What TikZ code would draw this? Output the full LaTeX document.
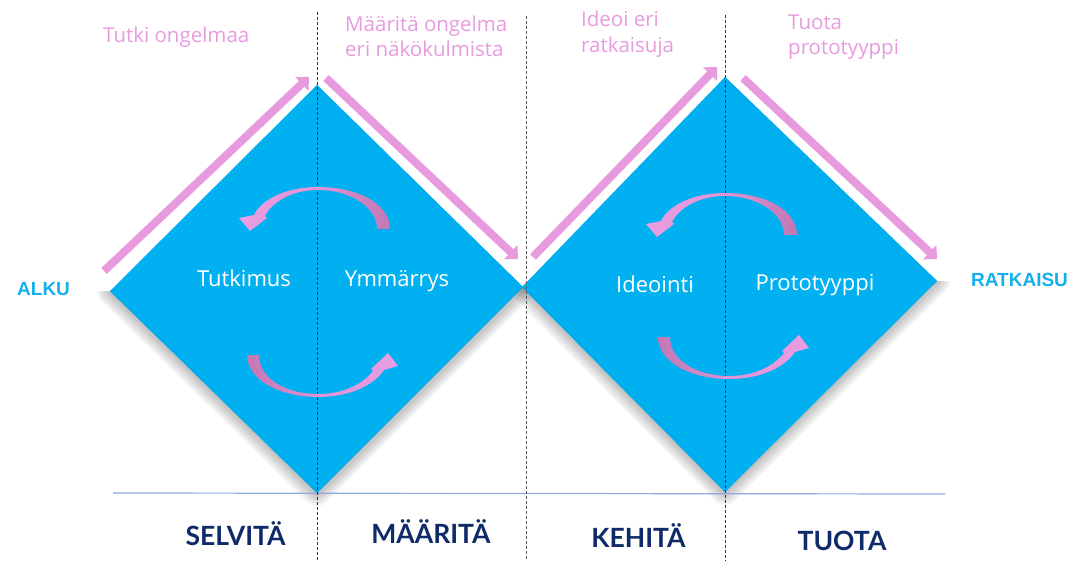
\documentclass[tikz,border=0pt]{standalone}
\usepackage{fontspec}
\setmainfont{Open Sans}
\newfontfamily\labfont{Lato}
\newfontfamily\endfont{Liberation Sans}
\usetikzlibrary{arrows.meta}
\definecolor{dblue}{HTML}{00B0F0}
\definecolor{pinkA}{HTML}{E89ADF}
\definecolor{pinkL}{HTML}{EA9EE2}
\definecolor{pinkD}{HTML}{C278B3}
\definecolor{navy}{HTML}{0E2A68}
\definecolor{endcol}{HTML}{14B0EE}
\definecolor{hline}{HTML}{8FAADC}
\tikzset{
  diamondfill/.style={fill=dblue, draw=none},
  edgearrow/.style={draw=pinkA, line width=8pt, -{Triangle[width=19pt,length=10pt]}},
  divider/.style={draw=black!80, line width=0.8pt, dash pattern=on 3pt off 2pt},
  pinktext/.style={text=pinkA, font=\fontsize{20.5}{24}\selectfont, inner sep=0pt, anchor=base west},
  whitetext/.style={text=white, font=\fontsize{22}{26}\selectfont, inner sep=0pt, anchor=base},
  phase/.style={text=navy, font=\labfont\bfseries\fontsize{26.5}{30}\selectfont, inner sep=0pt, anchor=base},
  endlabel/.style={text=endcol, font=\endfont\bfseries\fontsize{19}{22}\selectfont, inner sep=0pt, anchor=base west},
}
\begin{document}
\begin{tikzpicture}[x=1pt,y=-1pt]
\useasboundingbox (0,0) rectangle (1078,561);
% diamond corners
\coordinate (aL) at (110,291); \coordinate (aT) at (317,85);
\coordinate (aR) at (523,287); \coordinate (aB) at (317,493);
\coordinate (bL) at (522,287); \coordinate (bT) at (725,77);
\coordinate (bR) at (937,281); \coordinate (bB) at (725,492);
% shadows (only below the horizontal diagonal)
\foreach \c in {a,b}{
  \begin{scope}
    \clip ([xshift=-40]\c L) -- (\c L) -- (\c R) -- ([xshift=40]\c R) -- ([xshift=40]\c R |- 0,561) -- ([xshift=-40]\c L |- 0,561) -- cycle;
    \begin{scope}[shift={(0,12)}]
      \fill[black, opacity=0.26] (\c L) -- (\c T) -- (\c R) -- (\c B) -- cycle;
      \foreach \w in {26,21,16,11,6}
        \draw[black, opacity=0.05, line width=\w pt, line join=round] (\c L) -- (\c T) -- (\c R) -- (\c B) -- cycle;
    \end{scope}
  \end{scope}
}
% diamonds
\foreach \c in {a,b}{
  \fill[diamondfill] (\c L) -- (\c T) -- (\c R) -- (\c B) -- cycle;
  \begin{scope}
    \clip (\c L) -- (\c T) -- (\c R) -- (\c B) -- cycle;
    \draw[cyan, opacity=0.35, line width=12pt] (\c T) -- (\c R);
    \draw[cyan, opacity=0.8, line width=4pt] (\c T) -- (\c R);
    \draw[cyan, opacity=0.3, line width=7pt] (\c L) -- (\c B);
    \draw[cyan, opacity=0.8, line width=3pt] (\c L) -- (\c B);
  \end{scope}
}
% horizontal base line
\coordinate (h1) at (113,493); \coordinate (h2) at (945,494);
\draw[hline, line width=1.2pt] (h1) -- (h2);
% dashed dividers
\coordinate (v1a) at (317,12); \coordinate (v1b) at (317,561);
\coordinate (v2a) at (526,16); \coordinate (v2b) at (526,561);
\coordinate (v3a) at (725,15); \coordinate (v3b) at (725,561);
\draw[divider] (v1a) -- (v1b);
\draw[divider, draw=black!65] (v2a) -- (v2b);
\draw[divider] (v3a) -- (v3b);
% straight pink arrows along edges
\coordinate (p1s) at (104,271); \coordinate (p1e) at (309,77);
\coordinate (p2s) at (326,78);  \coordinate (p2e) at (518,259);
\coordinate (p3s) at (533,257); \coordinate (p3e) at (717,67);
\coordinate (p4s) at (743,78);  \coordinate (p4e) at (937,259);
\draw[edgearrow] (p1s) -- (p1e);
\draw[edgearrow] (p2s) -- (p2e);
\draw[edgearrow] (p3s) -- (p3e);
\draw[edgearrow] (p4s) -- (p4e);
% curved cycle arrows
\foreach \sx/\sy in {0/0, 407/6}{
  \begin{scope}[shift={(\sx,\sy)}]
    \shade[left color=pinkL, right color=pinkD, middle color=pinkL!75!pinkD]
      (390,229) .. controls (390,205) and (360,187) .. (318,187)
      .. controls (285,187) and (261,200) .. (254,215)
      -- (239,218) -- (250,231) -- (267,218) -- (265,216)
      .. controls (272,202) and (292,190) .. (318,190)
      .. controls (350,190) and (377,207) .. (377,229) -- cycle;
  \end{scope}
}
\foreach \sx/\sy in {0/0, 411/-18}{
  \begin{scope}[shift={(\sx,\sy)}]
    \shade[left color=pinkD, right color=pinkL, middle color=pinkL!75!pinkD]
      (247,355) .. controls (247,380) and (280,397) .. (318,397)
      .. controls (350,397) and (374,385) .. (384,370)
      -- (398,366) -- (388,353) -- (371,369) -- (373,371)
      .. controls (362,385) and (342,394) .. (318,394)
      .. controls (285,394) and (259,378) .. (259,355) -- cycle;
  \end{scope}
}
% top pink texts
\node[pinktext] (t1) at (103,43) {Tutki ongelmaa};
\node[pinktext] (t2a) at (345,32) {Määritä ongelma};
\node[pinktext] (t2b) at (345,57) {eri näkökulmista};
\node[pinktext] (t3a) at (581,27) {Ideoi eri};
\node[pinktext] (t3b) at (581,53) {ratkaisuja};
\node[pinktext] (t4a) at (788,30) {Tuota};
\node[pinktext] (t4b) at (788,55) {prototyyppi};
% inner labels
\node[whitetext] (w1) at (244,287) {Tutkimus};
\node[whitetext] (w2) at (397,287) {Ymmärrys};
\node[whitetext] (w3) at (655,292) {Ideointi};
\node[whitetext] (w4) at (815,290) {Prototyyppi};
% start / end
\node[endlabel] (alku) at (17,295) {ALKU};
\node[endlabel] (ratk) at (971,287) {RATKAISU};
% phases
\node[phase] (ph1) at (235.5,545) {SELVITÄ};
\node[phase] (ph2) at (431,543) {MÄÄRITÄ};
\node[phase] (ph3) at (638.5,547) {KEHITÄ};
\node[phase] (ph4) at (842,550) {TUOTA};
\end{tikzpicture}
\end{document}
